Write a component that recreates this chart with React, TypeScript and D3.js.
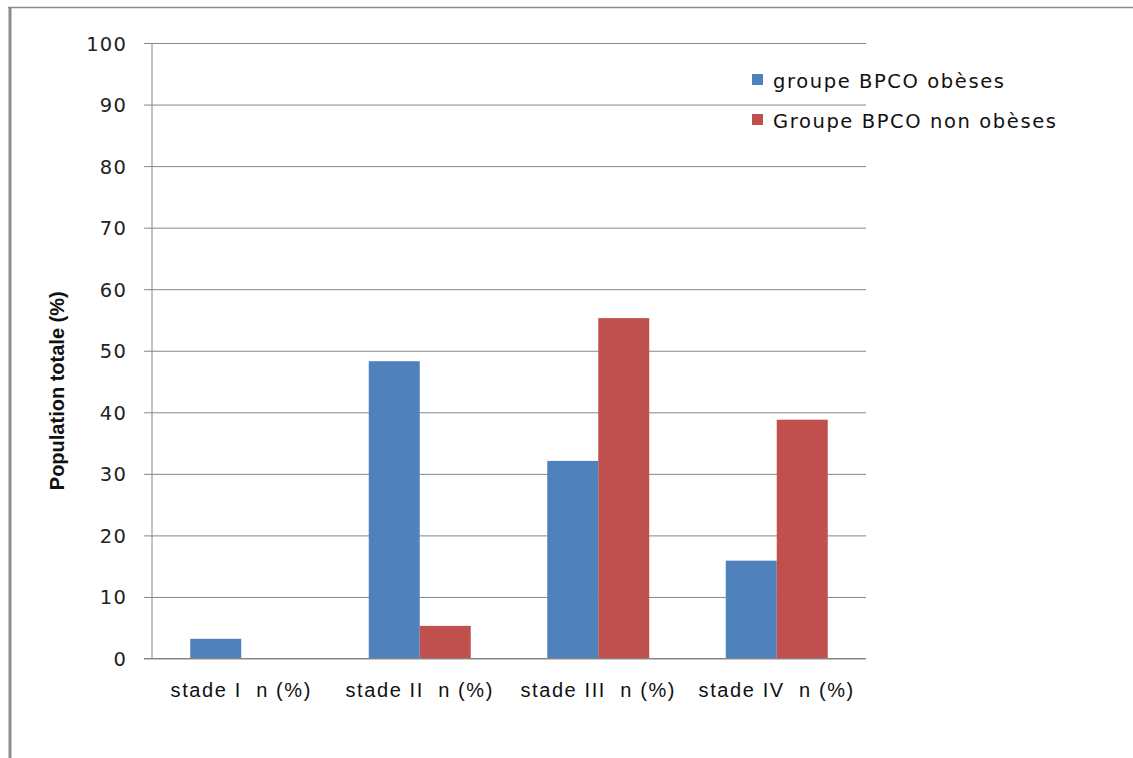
import { useEffect, useRef } from "react";
import * as d3 from "d3";

const categories = ["stade I  n (%)", "stade II  n (%)", "stade III  n (%)", "stade IV  n (%)"];
const seriesNames = ["groupe BPCO obèses", "Groupe BPCO non obèses"];
const seriesColors = ["#4F81BD", "#C0504D"];
const obeses = [3.2, 48.3, 32.1, 15.9];
const nonObeses = [0, 5.3, 55.3, 38.8];
const yTicks = [0, 10, 20, 30, 40, 50, 60, 70, 80, 90, 100];

const width = 1133;
const height = 758;
const margin = { top: 43, right: 267, bottom: 99.5, left: 152 };

const App = () => {
  const svgRef = useRef<SVGSVGElement>(null);

  useEffect(() => {
    if (!svgRef.current) return;
    const svg = d3.select(svgRef.current);
    svg.selectAll("*").remove();

    const values = [obeses, nonObeses];
    const rows = categories.map((c, i) => ({ cat: c, vals: values.map((v) => v[i]) }));

    const x0 = d3
      .scaleBand<string>()
      .domain(categories)
      .range([margin.left, width - margin.right])
      .paddingInner(0)
      .paddingOuter(0);
    const x1 = d3
      .scaleBand<number>()
      .domain([0, 1])
      .range([0, x0.bandwidth()])
      .paddingInner(0)
      .paddingOuter(0.75);
    const y = d3
      .scaleLinear()
      .domain([0, 100])
      .range([height - margin.bottom, margin.top]);

    // outer frame (left + top edges visible)
    svg
      .append("line")
      .attr("x1", 8)
      .attr("x2", width)
      .attr("y1", 7.5)
      .attr("y2", 7.5)
      .attr("stroke", "#8c8c8c")
      .attr("stroke-width", 1.5);
    svg
      .append("line")
      .attr("x1", 10)
      .attr("x2", 10)
      .attr("y1", 7)
      .attr("y2", height)
      .attr("stroke", "#8c8c8c")
      .attr("stroke-width", 3);

    // gridlines + y ticks
    const yAxis = svg
      .append("g")
      .attr("transform", `translate(${margin.left},0)`)
      .call(
        d3
          .axisLeft(y)
          .tickValues(yTicks)
          .tickSize(-(width - margin.right - margin.left))
          .tickSizeOuter(0)
          .tickPadding(25),
      );
    yAxis.select(".domain").remove();
    yAxis
      .selectAll(".tick line")
      .attr("x1", -8)
      .attr("stroke", "#868686")
      .attr("stroke-width", 1);
    yAxis
      .selectAll(".tick text")
      .attr("fill", "#222")
      .attr("font-family", "DejaVu Sans, sans-serif")
      .attr("font-size", 19.5)
      .attr("letter-spacing", 1.2)
      .attr("dy", "0.36em");

    // y axis line
    svg
      .append("line")
      .attr("x1", margin.left)
      .attr("x2", margin.left)
      .attr("y1", y(100))
      .attr("y2", y(0))
      .attr("stroke", "#868686");

    // bars
    const groups = svg
      .append("g")
      .selectAll("g")
      .data(rows)
      .join("g")
      .attr("transform", (d) => `translate(${x0(d.cat)},0)`);
    groups
      .selectAll("rect")
      .data((d) => d.vals.map((v, k) => ({ v, k })))
      .join("rect")
      .attr("x", (d) => x1(d.k) as number)
      .attr("width", x1.bandwidth())
      .attr("y", (d) => y(d.v))
      .attr("height", (d) => y(0) - y(d.v))
      .attr("fill", (d) => seriesColors[d.k]);

    // x axis
    const xAxis = svg
      .append("g")
      .attr("transform", `translate(0,${y(0)})`)
      .call(d3.axisBottom(x0).tickSize(0).tickPadding(24));
    xAxis.select(".domain").attr("d", `M${margin.left - 8},0H${width - margin.right}`).attr("stroke", "#868686");
    xAxis
      .selectAll(".tick text")
      .attr("fill", "#111")
      .attr("font-family", "Liberation Sans, Arial, sans-serif")
      .attr("font-size", 20)
      .attr("letter-spacing", 1.6)
      .style("white-space", "pre");

    // y title
    svg
      .append("text")
      .attr("transform", `translate(64,${(y(0) + y(100)) / 2 + 40}) rotate(-90)`)
      .attr("text-anchor", "middle")
      .attr("font-family", "Liberation Sans, Arial, sans-serif")
      .attr("font-weight", "bold")
      .attr("font-size", 20)
      .attr("fill", "#111")
      .text("Population totale (%)");

    // legend
    const legend = svg
      .append("g")
      .selectAll("g")
      .data(seriesNames)
      .join("g")
      .attr("transform", (_, i) => `translate(752,${74 + i * 40})`);
    legend
      .append("rect")
      .attr("width", 11)
      .attr("height", 11)
      .attr("fill", (_, i) => seriesColors[i]);
    legend
      .append("text")
      .attr("x", 21)
      .attr("y", 14)
      .attr("font-family", "DejaVu Sans, sans-serif")
      .attr("font-size", 19.5)
      .attr("letter-spacing", 1.6)
      .attr("fill", "#111")
      .text((d) => d);
  }, []);

  return (
    <div style={{ position: "absolute", left: 0, top: 0 }}>
      <svg ref={svgRef} width={width} height={height} style={{ display: "block" }}></svg>
    </div>
  );
};

export default App;
